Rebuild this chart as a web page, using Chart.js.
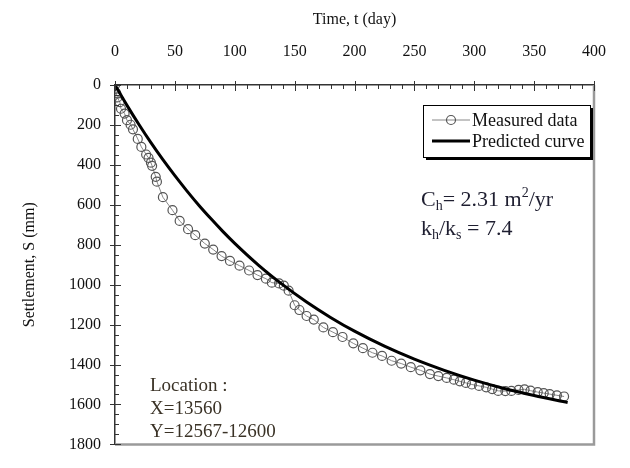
<!DOCTYPE html>
<html>
<head>
<meta charset="utf-8">
<script src="https://cdn.jsdelivr.net/npm/chart.js@4.4.1/dist/chart.umd.min.js"></script>
<style>
  html, body { margin: 0; padding: 0; background: #fff; }
  #wrap { width: 630px; height: 468px; }
</style>
</head>
<body>
<div id="wrap"><canvas id="settleChart" width="630" height="468"></canvas></div>
<script>
// measured settlement
const measuredDays = [0, 1, 2, 4, 5, 8, 10, 13, 15, 19, 22, 26, 28, 30, 31, 34, 35, 40, 48, 54,
  61, 67, 75, 82, 89, 96, 104, 112, 119, 126, 131, 137, 141, 145, 150, 154, 160, 166, 174, 182,
  190, 199, 207, 215, 223, 231, 239, 247, 255, 263, 270, 277, 283, 288, 293, 298, 304, 310, 315, 320,
  326, 331, 337, 342, 347, 353, 358, 363, 369, 375];
const measuredS = [0, 40, 62, 86, 119, 143, 176, 199, 222, 270, 310, 348, 365, 389, 405, 460, 484, 562, 627, 681,
  722, 752, 794, 824, 857, 881, 905, 929, 952, 970, 990, 994, 1005, 1030, 1103, 1127, 1157, 1175, 1214, 1238,
  1262, 1294, 1318, 1341, 1357, 1381, 1395, 1413, 1429, 1448, 1458, 1467, 1476, 1484, 1492, 1500, 1507, 1514, 1523, 1532,
  1533, 1532, 1527, 1524, 1531, 1538, 1543, 1548, 1554, 1560];

// predicted curve
const curveDays = [0, 10, 20, 30, 40, 50, 60, 70, 80, 90, 100, 120, 140, 160, 180, 200, 225, 250, 275, 300, 325, 350, 378];
const curveS = [0, 102, 198, 289, 374, 454, 530, 602, 669, 733, 793, 903, 1000, 1087, 1164, 1233, 1308, 1373, 1429, 1478, 1520, 1555, 1590];

const seriesNames = ['Measured data', 'Predicted curve'];
const xTicks = [0, 50, 100, 150, 200, 250, 300, 350, 400];
const yTicks = [0, 200, 400, 600, 800, 1000, 1200, 1400, 1600, 1800];
const locationLines = ['Location :', 'X=13560', 'Y=12567-12600'];

const serif = '"Liberation Serif", "Times New Roman", serif';

const frame = {
  id: 'frame',
  afterDraw(chart) {
    const ctx = chart.ctx;
    const sx = chart.scales.x, sy = chart.scales.y;
    const a = chart.chartArea;
    ctx.save();
    // grey right + bottom edges
    ctx.strokeStyle = '#9a9a9a';
    ctx.lineWidth = 2.5;
    ctx.beginPath();
    ctx.moveTo(a.right, a.top);
    ctx.lineTo(a.right, a.bottom);
    ctx.lineTo(a.left, a.bottom);
    ctx.stroke();

    // ticks
    ctx.strokeStyle = '#333';
    ctx.lineWidth = 1;
    ctx.beginPath();
    for (let t = 0; t <= 400; t += 10) {
      const x = Math.round(sx.getPixelForValue(t)) + 0.5;
      if (t % 50 === 0) { ctx.moveTo(x, a.top - 4); ctx.lineTo(x, a.top + 6); }
      else { ctx.moveTo(x, a.top); ctx.lineTo(x, a.top + 4); }
    }
    for (let s = 0; s <= 1800; s += 50) {
      const y = Math.round(sy.getPixelForValue(s)) + 0.5;
      if (s % 200 === 0) { ctx.moveTo(a.left - 5, y); ctx.lineTo(a.left + 6, y); }
      else { ctx.moveTo(a.left, y); ctx.lineTo(a.left + 4, y); }
    }
    ctx.stroke();

    // legend box with shadow
    const bx = 423, by = 105, bw = 167, bh = 52;
    ctx.fillStyle = '#000';
    ctx.fillRect(bx + 3, by + 3, bw, bh);
    ctx.fillStyle = '#fff';
    ctx.fillRect(bx, by, bw, bh);
    ctx.strokeStyle = '#000';
    ctx.lineWidth = 1;
    ctx.strokeRect(bx + 0.5, by + 0.5, bw, bh);

    const ds = chart.data.datasets;
    ctx.strokeStyle = ds[0].borderColor;
    ctx.lineWidth = 1;
    ctx.beginPath();
    ctx.moveTo(432, 120); ctx.lineTo(470, 120);
    ctx.stroke();
    ctx.strokeStyle = ds[0].pointBorderColor;
    ctx.lineWidth = 1.2;
    ctx.beginPath();
    ctx.arc(451, 120, 4.5, 0, Math.PI * 2);
    ctx.stroke();
    ctx.strokeStyle = ds[1].borderColor;
    ctx.lineWidth = 3;
    ctx.beginPath();
    ctx.moveTo(432, 141); ctx.lineTo(470, 141);
    ctx.stroke();

    ctx.fillStyle = '#111';
    ctx.font = '18px ' + serif;
    ctx.textBaseline = 'middle';
    ctx.textAlign = 'left';
    ctx.fillText(ds[0].label, 472, 121);
    ctx.fillText(ds[1].label, 472, 142);

    // parameter text
    ctx.fillStyle = '#1e1e30';
    ctx.textBaseline = 'alphabetic';
    let x = 421;
    const big = '22px ' + serif, small = '14px ' + serif;
    function put(txt, font, dy) {
      ctx.font = font;
      ctx.fillText(txt, x, dy);
      x += ctx.measureText(txt).width;
    }
    put('C', big, 206); put('h', small, 210); put('= 2.31 m', big, 206); put('2', small, 197); put('/yr', big, 206);
    x = 421;
    put('k', big, 235); put('h', small, 239); put('/k', big, 235); put('s', small, 239); put(' = 7.4', big, 235);

    // location text
    ctx.fillStyle = '#3a3226';
    ctx.font = '19px ' + serif;
    locationLines.forEach((line, i) => ctx.fillText(line, 150, 391 + i * 23));
    ctx.restore();
  }
};

const context = document.getElementById('settleChart').getContext('2d');

const data = {
  datasets: [
    {
      label: seriesNames[0],
      data: measuredDays.map((d, i) => ({ x: d, y: measuredS[i] })),
      showLine: true,
      borderColor: '#888',
      borderWidth: 1,
      pointStyle: 'circle',
      pointRadius: 4.5,
      pointBorderColor: '#555',
      pointBorderWidth: 1.2,
      pointBackgroundColor: 'rgba(0,0,0,0)',
      order: 1
    },
    {
      label: seriesNames[1],
      data: curveDays.map((d, i) => ({ x: d, y: curveS[i] })),
      showLine: true,
      borderColor: '#000',
      borderWidth: 3,
      pointRadius: 0,
      cubicInterpolationMode: 'monotone',
      order: 0
    }
  ]
};

const config = {
  type: 'scatter',
  data: data,
  options: {
    responsive: false,
    animation: false,
    devicePixelRatio: 1,
    layout: { padding: { left: 0, top: 0, right: 22, bottom: 5 } },
    plugins: { legend: { display: false }, tooltip: { enabled: false } },
    scales: {
      x: {
        type: 'linear',
        position: 'top',
        min: 0,
        max: 400,
        afterFit(scale) { scale.height = 85; },
        afterBuildTicks(scale) { scale.ticks = xTicks.map(v => ({ value: v })); },
        grid: { drawOnChartArea: false, drawTicks: false },
        border: { color: '#333', width: 1.5 },
        ticks: { autoSkip: false, maxRotation: 0, padding: 24, color: '#111', font: { family: serif, size: 16 },
          callback: v => String(v) },
        title: { display: true, text: 'Time, t (day)', color: '#111', padding: { top: 10 }, font: { family: serif, size: 16 } }
      },
      y: {
        type: 'linear',
        reverse: true,
        min: 0,
        max: 1800,
        afterFit(scale) { scale.width = 115; },
        afterBuildTicks(scale) { scale.ticks = yTicks.map(v => ({ value: v })); },
        grid: { drawOnChartArea: false, drawTicks: false },
        border: { color: '#333', width: 1.5 },
        ticks: { autoSkip: false, padding: 14, color: '#111', font: { family: serif, size: 16 },
          callback: v => String(v) },
        title: { display: true, text: 'Settlement, S (mm)', color: '#111', padding: { top: 20 }, font: { family: serif, size: 16 } }
      }
    }
  },
  plugins: [frame]
};

const settleChart = new Chart(context, config);
</script>
</body>
</html>
